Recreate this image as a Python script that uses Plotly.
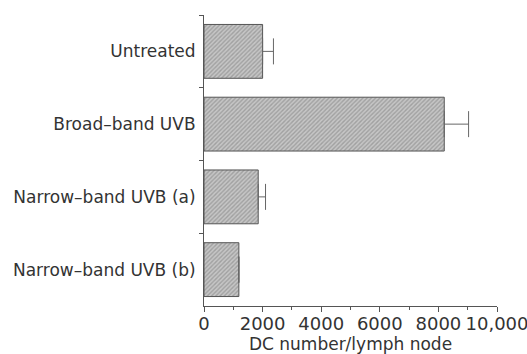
import plotly.graph_objects as go

categories = ["Untreated", "Broad\u2013band UVB", "Narrow\u2013band UVB (a)", "Narrow\u2013band UVB (b)"]
values = [2000, 8200, 1850, 1190]
errors_plus = [370, 830, 250, None]
tick_vals = [0, 2000, 4000, 6000, 8000, 10000]
tick_text = ["0", "2000", "4000", "6000", "8000", "10,000"]

fig = go.Figure()
fig.add_trace(go.Bar(
    y=categories, x=values, orientation="h", width=0.74,
    marker=dict(color="#b0b0b0",
                line=dict(color="#555555", width=1),
                pattern=dict(shape="/", fgcolor="#7a7a7a", bgcolor="#c6c6c6", size=3, solidity=0.45)),
    error_x=dict(type="data", symmetric=False, array=errors_plus,
                 arrayminus=[0, 0, 0, None], color="#666666", thickness=1, width=13),
))

font_family = "DejaVu Sans, Liberation Sans, sans-serif"
fig.update_layout(
    width=527, height=354,
    margin=dict(l=204, r=30, t=15, b=48, autoexpand=False),
    paper_bgcolor="white", plot_bgcolor="white",
    showlegend=False,
    font=dict(family=font_family, size=17, color="#333333"),
)
fig.update_xaxes(
    range=[0, 10000], tickvals=tick_vals, ticktext=tick_text, automargin=False,
    ticklabeloverflow="allow", ticklabelstandoff=-4,
    showgrid=False, zeroline=False, showline=True, linecolor="#555555", linewidth=1,
    ticks="outside", ticklen=5, tickcolor="#555555",
    minor=dict(dtick=1000, ticks="outside", ticklen=3, tickcolor="#555555"),
    tickfont=dict(size=18, color="#333333"),
    title=dict(text="DC number/lymph node", font=dict(size=17, color="#333333"), standoff=0),
)
fig.update_yaxes(
    categoryorder="array", categoryarray=categories, autorange="reversed", automargin=False,
    showgrid=False, zeroline=False, showline=True, linecolor="#555555", linewidth=1,
    ticks="outside", tickson="boundaries", ticklen=4, tickcolor="#555555",
    tickfont=dict(size=17, color="#333333"), ticklabelstandoff=4,
)

fig.write_html("out.html", config={"displayModeBar": False},
               post_script="document.body.style.margin='0';document.body.style.overflow='hidden';")
